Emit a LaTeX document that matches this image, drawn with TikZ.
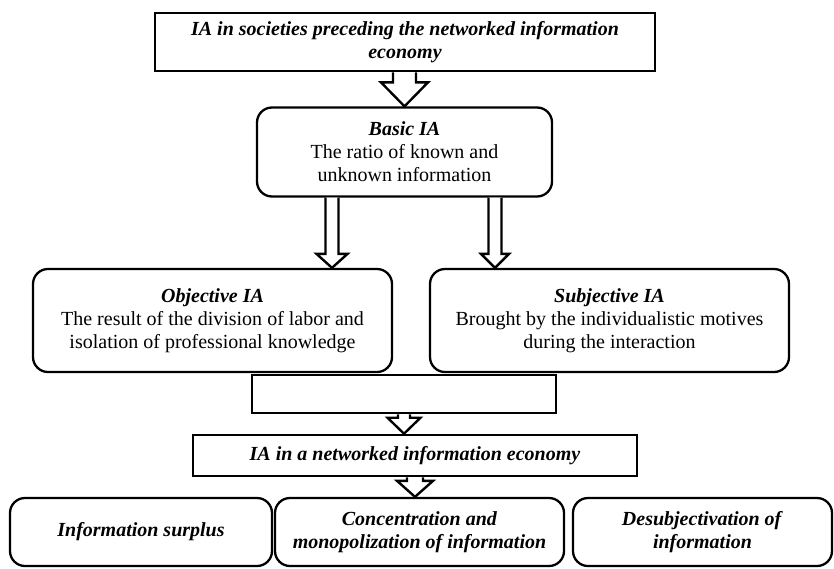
\documentclass[tikz,border=0pt]{standalone}
\usepackage{fontspec}
\setmainfont{Liberation Serif}
\usetikzlibrary{calc}

\tikzset{
  plainbox/.style={draw, line width=2.6pt, align=center, inner sep=0pt,
    font=\fontsize{20}{23}\selectfont},
  roundbox/.style={plainbox, line width=2.3pt, rounded corners=15pt},
  fatline/.style={draw, line width=2.4pt, fill=white, line join=miter}
}
\newcommand{\bi}[1]{\textbf{\textit{#1}}}
% hollow arrow: from, tip, half shaft, half head, head length
\newcommand{\fatarrow}[5]{%
  \draw[fatline] let \p1=(#1), \p2=(#2) in
    (\x2-#3pt,\y1) -- (\x2-#3pt,\y2+#5pt) -- (\x2-#4pt,\y2+#5pt) -- (\x2,\y2)
    -- (\x2+#4pt,\y2+#5pt) -- (\x2+#3pt,\y2+#5pt) -- (\x2+#3pt,\y1);}

\begin{document}
\begin{tikzpicture}[x=1pt, y=-1pt]
    \useasboundingbox (0,0) rectangle (834,568);

    % Before the networked economy
    \node[plainbox, minimum width=500pt, minimum height=58pt] (top) at (405,42)
      {\bi{IA in societies preceding the networked information}\\ \bi{economy}};
    \node[roundbox, minimum width=295pt, minimum height=89pt] (basic) at (404.5,152)
      {\bi{Basic IA}\\ The ratio of known and\\ unknown information};

    % Objective / subjective
    \node[roundbox, minimum width=359pt, minimum height=103pt] (obj) at (212.5,320.5)
      {\bi{Objective IA}\\ The result of the division of labor and\\ isolation of professional knowledge};
    \node[roundbox, minimum width=359pt, minimum height=103pt] (subj) at (609.5,320.5)
      {\bi{Subjective IA}\\ Brought by the individualistic motives\\ during the interaction};

    % Networked economy
    \node[plainbox, minimum width=304pt, minimum height=38pt] (empty) at (404,394) {};
    \node[plainbox, minimum width=444pt, minimum height=41pt] (net) at (415,455.5)
      {\bi{IA in a networked information economy}};

    % Consequences
    \node[roundbox, minimum width=262pt, minimum height=68pt] (surplus) at (141,532)
      {\bi{Information surplus}};
    \node[roundbox, minimum width=289pt, minimum height=68pt] (monopoly) at (419.5,532)
      {\bi{Concentration and}\\ \bi{monopolization of information}};
    \node[roundbox, minimum width=259pt, minimum height=68pt] (desubj) at (702.5,532)
      {\bi{Desubjectivation of}\\ \bi{information}};

    % Arrows
    \coordinate (tipL) at ([xshift=119.5pt]obj.north);
    \coordinate (tipR) at ([xshift=-114.5pt]subj.north);
    \fatarrow{top.south}{basic.north}{11.5}{23.5}{24}
    \fatarrow{basic.south}{tipL}{6.5}{15.5}{14}
    \fatarrow{basic.south}{tipR}{6.5}{14}{14}
    \fatarrow{empty.south}{empty.south |- net.north}{6}{16.5}{16}
    \fatarrow{net.south}{net.south |- monopoly.north}{8}{18}{16}
\end{tikzpicture}
\end{document}
